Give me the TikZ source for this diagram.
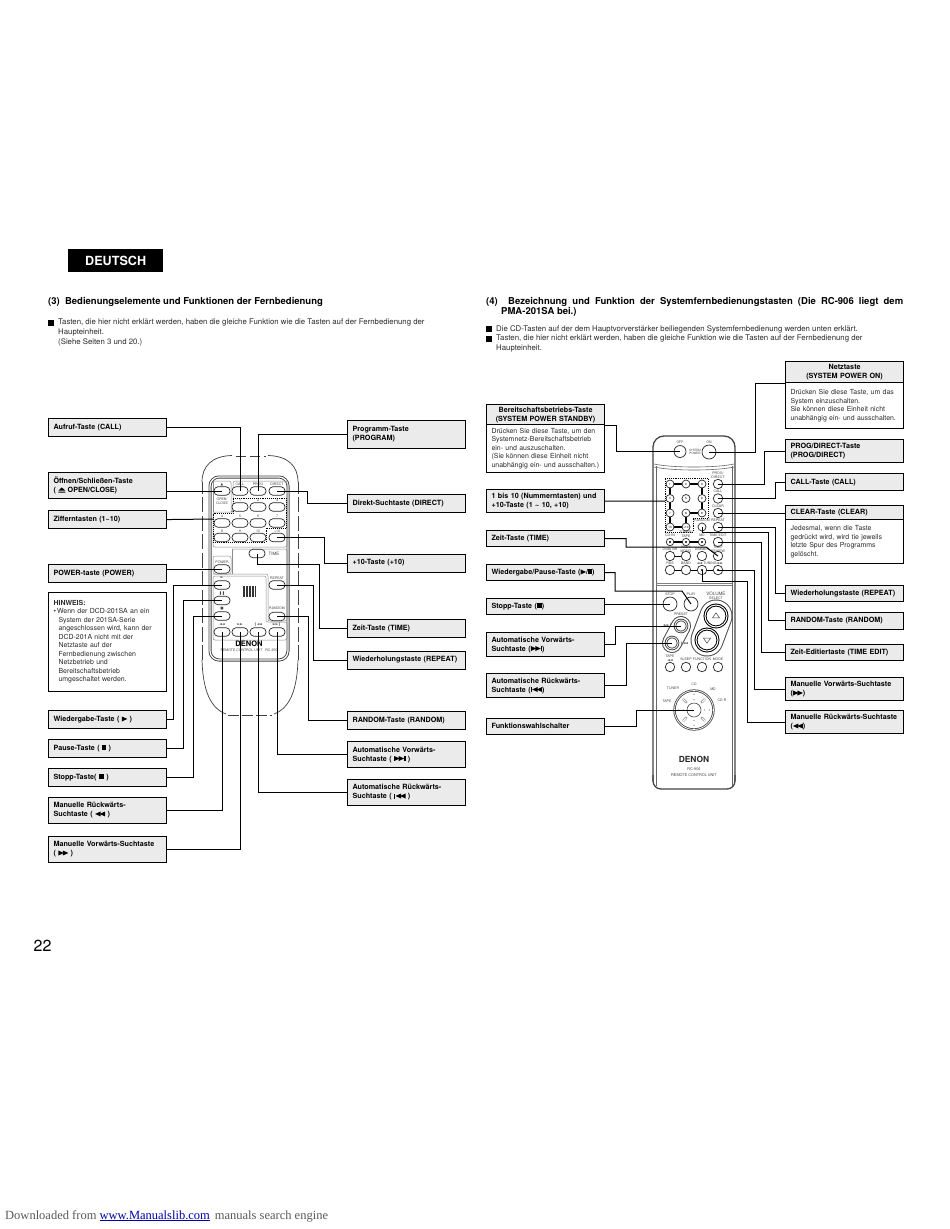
\documentclass[tikz,border=0pt]{standalone}
\usepackage{fontspec}
\setmainfont{TeX Gyre Heros}
\newfontfamily\symf{DejaVu Sans}
\newfontfamily\footf{Liberation Serif}
\usepackage{xcolor}
\usepackage{tikz}
\usetikzlibrary{calc,shapes.geometric,shadows}
\definecolor{lgry}{HTML}{EBEBEB}
\definecolor{rink}{HTML}{444444}
\definecolor{tink}{HTML}{2A2A2A}
\definecolor{ulnk}{HTML}{0000AA}
\definecolor{fink}{HTML}{5A5A5A}
\newcommand{\ejectsym}{\tikz[baseline=0pt,x=1pt,y=1pt]\fill (0,0) rectangle (7,1.1) (0,1.9) -- (7,1.9) -- (3.5,5.2) -- cycle;}
\newcommand{\trir}{\tikz[baseline=0pt,x=1pt,y=1pt]\fill (0,0) -- (0,5) -- (5.5,2.5) -- cycle;}
\newcommand{\tril}{\tikz[baseline=0pt,x=1pt,y=1pt]\fill (5.5,0) -- (5.5,5) -- (0,2.5) -- cycle;}
\newcommand{\pausesym}{\rule{1.7pt}{5pt}\hspace{0.6pt}\rule{1.7pt}{5pt}}
\newcommand{\stopsym}{\rule{5pt}{5pt}}
\newcommand{\ffsym}{\trir\hspace{-1pt}\trir}
\newcommand{\rwsym}{\tril\hspace{-1pt}\tril}
\newcommand{\nextsym}{\ffsym\hspace{0.3pt}\rule{1.1pt}{5pt}}
\newcommand{\prevsym}{\rule{1.1pt}{5pt}\hspace{0.3pt}\rwsym}
\newcommand{\jline}[2]{\makebox[#1][s]{#2}}
\newcommand{\symb}[1]{{\symf #1}}
\tikzset{
  lbox/.style   ={draw=black, line width=1.1pt, fill=lgry, anchor=north west, text width=108pt,
                  inner xsep=5pt, inner ysep=0pt, align=left,
                  font=\fontsize{7.2}{9}\selectfont\bfseries,
                  general shadow={fill=black, shadow xshift=0.6pt, shadow yshift=-0.6pt}},
  hdbox/.style  ={lbox, align=center},
  txbox/.style  ={draw=black, line width=1.1pt, fill=white, anchor=north west, text width=108pt,
                  inner xsep=5pt, inner ysep=0pt, align=left, text=tink,
                  font=\fontsize{6.95}{8.5}\selectfont,
                  general shadow={fill=black, shadow xshift=0.6pt, shadow yshift=-0.6pt}},
  ptext/.style  ={anchor=north west, inner sep=0pt, align=left, text=tink, font=\fontsize{7.8}{10}\selectfont},
  ptitle/.style ={anchor=north west, inner sep=0pt, align=left, font=\fontsize{9.5}{10}\selectfont\bfseries},
  bull/.style   ={fill=black, minimum size=6pt, inner sep=0pt, anchor=north west},
  link/.style   ={draw=black, line width=1pt, line join=miter},
  lbtn/.style   ={draw=black!85, line width=0.7pt, fill=white, rounded corners=4pt, minimum width=16pt,
                  minimum height=8.5pt, inner sep=0pt},
  rbtn/.style   ={draw=black!85, line width=0.7pt, fill=white, circle, minimum size=9.5pt, inner sep=0pt},
  dbtn/.style   ={rbtn, path picture={\fill[black] (path picture bounding box.center) circle (1.2pt);}},
  tlab/.style   ={text=rink, inner sep=0pt, align=center, font=\fontsize{3.5}{3.9}\selectfont},
  panel/.style  ={draw=black!45, line width=0.5pt, rounded corners=2pt},
  shell/.style  ={draw=rink, line width=0.9pt},
  strap/.style  ={draw=black!75, line width=0.7pt, dash pattern=on 15pt off 3.5pt},
  dotfr/.style  ={draw=black, line width=0.9pt, densely dotted},
  keylink/.style={draw=black, line width=1pt},
}
\begin{document}
\begin{tikzpicture}[x=1pt,y=-1pt]
  \useasboundingbox[fill=white] (0,0) rectangle (950,1229);
  % page head
  \node[fill=black, text=white, anchor=north west, minimum width=95pt, minimum height=23pt, inner sep=0pt,
        font=\fontsize{12.6}{13}\selectfont\bfseries] (lang) at (68,249) {\raisebox{-4.5pt}{DEUTSCH}};
  \node[ptitle] (title3) at (48,297.5) {(3)\ \ Bedienungselemente und Funktionen der Fernbedienung};
  \node[ptitle] (title4a) at (486,297.5) {\makebox[417pt][s]{(4) \ Bezeichnung und Funktion der Systemfernbedienungstasten (Die RC-906 liegt dem}};
  \node[ptitle] (title4b) at (501,307.5) {PMA-201SA bei.)};
  \node[bull] (b1) at (48,319.5) {};
  \node[ptext] (t1) at (58,318.5) {Tasten, die hier nicht erklärt werden, haben die gleiche Funktion wie die Tasten auf der Fernbedienung der\\Haupteinheit.\\(Siehe Seiten 3 und 20.)};
  \node[bull] (b2) at (486,326) {};
  \node[ptext] (t2) at (496,325) {Die CD-Tasten auf der dem Hauptvorverstärker beiliegenden Systemfernbedienung werden unten erklärt.};
  \node[bull] (b3) at (486,336) {};
  \node[ptext] (t3) at (496,335) {Tasten, die hier nicht erklärt werden, haben die gleiche Funktion wie die Tasten auf der Fernbedienung der\\Haupteinheit.};

  % remote of the main unit
  \draw[strap] (202,660) -- (202,482);
  \draw[draw=black!75, line width=0.7pt] (202,482) .. controls (202,466) and (212,456) .. (232,455.5);
  \draw[draw=black!75, line width=0.7pt] (298,482) .. controls (298,466) and (288,456) .. (268,455.5);
  \draw[strap, dash pattern=on 10pt off 4pt] (236,456) -- (266,456);
  \draw[strap] (298,660) -- (298,482);
  \draw[draw=black!75, line width=0.7pt] (202,660) .. controls (203,690) and (210,708) .. (226,714);
  \draw[draw=black!75, line width=0.7pt] (298,660) .. controls (297,690) and (290,708) .. (274,714);
  \draw[strap, dash pattern=on 11pt off 3pt] (228,715) -- (272,715);
  \draw[shell, rounded corners=9pt, double=white, double distance=1.2pt] (210,477) rectangle (288,660);
  \draw[panel] (213,481) -- (231,481) -- (231,512) -- (233,512) -- (233,481) -- (287,481) -- (287,547) -- (213,547) -- (213,512) -- (231,512);
  \draw[panel] (213,481) -- (213,512);
  \draw[panel] (232,549) -- (287,549) -- (287,621) -- (268,621) -- (268,574) -- (213,574);
  \draw[panel] (232,549) -- (232,574);
  \draw[panel] (213,556) -- (231,556) -- (231,574) -- (213,574) -- cycle;
  \draw[panel] (213,576) -- (266,576) -- (266,622) -- (287,622) -- (287,640) -- (213,640) -- cycle;
  \draw[dotfr] (233,498) -- (286,498) -- (286,528) -- (266,528) -- (266,542) -- (213,542) -- (213,513) -- (233,513) -- cycle;
  \foreach \sx in {243,244.5,...,255}
    \draw[black!80, line width=0.6pt] (\sx,586) -- (\sx,597);
  \coordinate (digits) at (214,519);

  \node[lbtn] (beject) at (222,491) {};
  \node[lbtn] (bcall) at (240,491) {};
  \node[lbtn] (bprog) at (258,491) {};
  \node[lbtn] (bdirect) at (277,491) {};
  \node[lbtn] (bone) at (240,507) {};
  \node[lbtn] (btwo) at (258,507) {};
  \node[lbtn] (bthree) at (277,507) {};
  \node[lbtn] (bfour) at (222,523) {};
  \node[lbtn] (bfive) at (240,523) {};
  \node[lbtn] (bsix) at (258,523) {};
  \node[lbtn] (bseven) at (277,523) {};
  \node[lbtn] (beight) at (222,537.5) {};
  \node[lbtn] (bnine) at (240,537.5) {};
  \node[lbtn] (bten) at (258,537.5) {};
  \node[lbtn] (bplus) at (277,537.5) {};
  \node[lbtn] (btime) at (257,553.5) {};
  \node[lbtn] (bpower) at (222,569) {};
  \node[lbtn] (bplay) at (222,585) {};
  \node[lbtn] (bpause) at (222,600.5) {};
  \node[lbtn] (bstop) at (222,616) {};
  \node[lbtn] (brepeat) at (277,585) {};
  \node[lbtn] (brandom) at (277,616.5) {};
  \node[lbtn] (bmrev) at (222,632) {};
  \node[lbtn] (bmfwd) at (240,632) {};
  \node[lbtn] (barev) at (258,632) {};
  \node[lbtn] (bafwd) at (277,632) {};

  \node[tlab] (n1) at (222,484.5) {\symb{▲}};
  \node[tlab] (n2) at (240,484.5) {CALL};
  \node[tlab] (n3) at (258,484.5) {PROG};
  \node[tlab] (n4) at (277,484.5) {DIRECT};
  \node[tlab] (n5) at (222,501) {OPEN/\\CLOSE};
  \node[tlab] (n6) at (240,500.5) {1};
  \node[tlab] (n7) at (258,500.5) {2};
  \node[tlab] (n8) at (277,500.5) {3};
  \node[tlab] (n9) at (222,516.5) {4};
  \node[tlab] (n10) at (240,516.5) {5};
  \node[tlab] (n11) at (258,516.5) {6};
  \node[tlab] (n12) at (277,516.5) {7};
  \node[tlab] (n13) at (222,531) {8};
  \node[tlab] (n14) at (240,531) {9};
  \node[tlab] (n15) at (258,531) {10};
  \node[tlab] (n16) at (277,531) {+10};
  \node[tlab, font=\fontsize{4.5}{5}\selectfont] (n17) at (274,553.5) {TIME};
  \node[tlab] (n18) at (222,562) {POWER};
  \node[tlab] (n19) at (222,578) {\symb{►}};
  \node[tlab] (n20) at (222,593.5) {\symb{❚❚}};
  \node[tlab] (n21) at (222,609) {\symb{■}};
  \node[tlab] (n22) at (277,578) {REPEAT};
  \node[tlab] (n23) at (277,608.5) {RANDOM};
  \node[tlab] (n24) at (222,625) {\symb{◄◄}};
  \node[tlab] (n25) at (240,625) {\symb{►►}};
  \node[tlab] (n26) at (258,625) {\symb{❙◄◄}};
  \node[tlab] (n27) at (277,625) {\symb{►►❙}};
  \node[tlab, text=black, font=\fontsize{7.5}{8}\selectfont\bfseries] (n28) at (249,644) {DENON};
  \node[tlab] (n29) at (249,650.5) {REMOTE CONTROL UNIT \ \ RC-260};

  % left labels
  \node[lbox, minimum height=18pt] (lcall) at (48,418) {Aufruf-Taste (CALL)};
  \node[lbox, minimum height=26pt] (leject) at (48,472) {Öffnen/Schließen-Taste\\( \ejectsym\ OPEN/CLOSE)};
  \node[lbox, minimum height=18pt] (ldigit) at (48,510) {Zifferntasten (1\textasciitilde10)};
  \node[lbox, minimum height=18pt] (lpower) at (48,564) {POWER-taste (POWER)};
  \node[txbox, minimum height=99pt] (lnote) at (48,592) {{\bfseries HINWEIS:}\\[-0.5pt]\textbullet\,Wenn der DCD-201SA an ein\\\hspace*{5pt}System der 201SA-Serie\\\hspace*{5pt}angeschlossen wird, kann der\\\hspace*{5pt}DCD-201A nicht mit der\\\hspace*{5pt}Netztaste auf der\\\hspace*{5pt}Fernbedienung zwischen\\\hspace*{5pt}Netzbetrieb und\\\hspace*{5pt}Bereitschaftsbetrieb\\\hspace*{5pt}umgeschaltet werden.};
  \node[lbox, minimum height=18pt] (lplay) at (48,710) {Wiedergabe-Taste ( \trir\ )};
  \node[lbox, minimum height=18pt] (lpause) at (48,739) {Pause-Taste ( \pausesym\ )};
  \node[lbox, minimum height=18pt] (lstop) at (48,768) {Stopp-Taste( \stopsym\ )};
  \node[lbox, minimum height=26pt] (lmrev) at (48,796.5) {Manuelle Rückwärts-\\Suchtaste ( \rwsym\ )};
  \node[lbox, minimum height=26pt] (lmfwd) at (48,835.5) {Manuelle Vorwärts-Suchtaste\\( \ffsym\ )};
  % right labels
  \node[lbox, minimum height=28pt] (lprog) at (347,419.5) {Programm-Taste\\(PROGRAM)};
  \node[lbox, minimum height=18pt] (ldirect) at (347,493.5) {Direkt-Suchtaste (DIRECT)};
  \node[lbox, minimum height=18pt] (lplus) at (347,553.5) {+10-Taste (+10)};
  \node[lbox, minimum height=18pt] (ltime) at (347,619) {Zeit-Taste (TIME)};
  \node[lbox, minimum height=18pt] (lrepeat) at (347,650.5) {Wiederholungstaste (REPEAT)};
  \node[lbox, minimum height=18pt] (lrandom) at (347,710.5) {RANDOM-Taste (RANDOM)};
  \node[lbox, minimum height=26pt] (lafwd) at (347,741) {Automatische Vorwärts-\\Suchtaste ( \nextsym\ )};
  \node[lbox, minimum height=26pt] (larev) at (347,778.5) {Automatische Rückwärts-\\Suchtaste ( \prevsym\ )};

  % flows left remote
  \draw[link] (lcall.east) -| (bcall.center);
  \draw[link] (leject.east |- beject) -- (beject.center);
  \draw[link] (ldigit.east) -- (digits);
  \draw[link] (lpower.east |- bpower) -- (bpower.center);
  \draw[link] (lplay.east) -- ++(6,0) |- (bplay.center);
  \draw[link] (lpause.east) -- ++(16,0) |- (bpause.center);
  \draw[link] (lstop.east) -- ++(26,0) |- (bstop.center);
  \draw[link] (lmrev.east) -| (bmrev.center);
  \draw[link] (lmfwd.east) -| (bmfwd.center);
  \draw[link] (lprog.west) -| (bprog.center);
  \draw[link] (ldirect.west) -- ++(-40,0) |- (bdirect.center);
  \draw[link] (lplus.west) -- ++(-23,0) |- (bplus.center);
  \draw[link] (ltime.west) -- ++(-28,0) |- ([yshift=-11pt]btime.center) -- (btime.center);
  \draw[link] (lrepeat.west) -- ++(-34,0) |- (brepeat.center);
  \draw[link] (lrandom.west) -- ++(-39,0) |- (brandom.center);
  \draw[link] (lafwd.west) -| (bafwd.center);
  \draw[link] (larev.west) -| (barev.center);

  % system remote
  \draw[shell, line width=1.3pt, rounded corners=11pt] (653,781) -- (653,436) -- (735,436) -- (735,781);
  \draw[shell, line width=1.3pt, rounded corners=8pt] (653,775) -- (653,789) -- (735,789) -- (735,775);
  \draw[black!60, line width=0.5pt] (656,466) -- (656,786) (732,466) -- (732,786);
  \draw[black!60, line width=0.6pt] (654,464) .. controls (672,468) and (716,468) .. (734,464);
  \draw[black!60, line width=0.6pt] (654,467) .. controls (672,471) and (716,471) .. (734,467);
  \draw[black!50, line width=0.5pt] (656,583) -- (732,583) (656,585) -- (732,585);
  \draw[dotfr] (665,478) -- (708,478) -- (708,518) -- (693,518) -- (693,532) -- (665,532) -- cycle;
  \coordinate (keypad) at (665,501);
  \draw[keylink, line width=1.2pt] (670,527) -- (670,484) -- (702,484) -- (702,513) -- (686,513) -- (686,527) -- cycle;
  \draw[keylink, line width=1.2pt] (670,542) -- (702,542);
  \draw[keylink] (670,556) -- (686,556) (670,570) -- (718,570);
  \draw[black!70, line width=20pt, line cap=round] (681,626) -- (672,643);
  \draw[white, line width=18pt, line cap=round] (681,626) -- (672,643);
  \draw[black!70, line width=33pt, line cap=round] (716,616) -- (707,640);
  \draw[white, line width=31pt, line cap=round] (716,616) -- (707,640);

  \node[rbtn, minimum size=12pt] (boff) at (680,451.5) {};
  \node[rbtn, minimum size=14pt] (bon) at (709,452) {};
  \node[rbtn] (bprd) at (718,484) {};
  \node[rbtn] (bcl) at (718,498.5) {};
  \node[rbtn] (bclr) at (718,513) {};
  \node[rbtn] (brpt) at (718,527) {};
  \node[rbtn] (bedit) at (718,542) {};
  \node[rbtn, minimum size=8pt] (brnd) at (702,527) {};
  \node[rbtn, minimum size=8pt] (k1) at (670,484) {\fontsize{3}{3}\selectfont 1};
  \node[rbtn, minimum size=8pt] (k2) at (686,484) {\fontsize{3}{3}\selectfont 2};
  \node[rbtn, minimum size=8pt] (k3) at (702,484) {\fontsize{3}{3}\selectfont 3};
  \node[rbtn, minimum size=8pt] (k4) at (670,498.5) {\fontsize{3}{3}\selectfont 4};
  \node[rbtn, minimum size=8pt] (k5) at (686,498.5) {\fontsize{3}{3}\selectfont 5};
  \node[rbtn, minimum size=8pt] (k6) at (702,498.5) {\fontsize{3}{3}\selectfont 6};
  \node[rbtn, minimum size=8pt] (k7) at (670,513) {\fontsize{3}{3}\selectfont 7};
  \node[rbtn, minimum size=8pt] (k8) at (686,513) {\fontsize{3}{3}\selectfont 8};
  \node[rbtn, minimum size=8pt] (k9) at (702,513) {\fontsize{3}{3}\selectfont 9};
  \node[rbtn, minimum size=8pt] (k10) at (670,527) {\fontsize{3}{3}\selectfont 10};
  \node[rbtn, minimum size=8pt] (k11) at (686,527) {\fontsize{3}{3}\selectfont +10};
  \node[dbtn, minimum size=7.5pt] (bcdin) at (670,542) {};
  \node[dbtn, minimum size=7.5pt] (btape) at (686,542) {};
  \node[dbtn, minimum size=7.5pt] (bmd) at (702,542) {};
  \node[rbtn] (bdolby) at (670,556) {};
  \node[rbtn] (bhigh) at (686,556) {};
  \node[rbtn] (bdim) at (702,556) {};
  \node[rbtn] (brev) at (718,556) {};
  \node[rbtn] (brds) at (670,570) {};
  \node[rbtn] (bband) at (686,570) {};
  \node[dbtn] (btdown) at (702,570) {};
  \node[dbtn] (btup) at (718,570) {};
  \node[rbtn, minimum size=14pt] (bstp) at (670,604) {};
  \node[rbtn, minimum size=14pt] (bply) at (691,604) {};
  \node[circle, draw=rink, line width=0.9pt, double=white, double distance=0.8pt, fill=white, minimum size=12pt, inner sep=0pt] (bpfwd) at (681,626) {};
  \node[circle, draw=rink, line width=0.9pt, double=white, double distance=0.8pt, fill=white, minimum size=12pt, inner sep=0pt] (bprev) at (672,643) {};
  \node[circle, draw=black, line width=1pt, double=white, double distance=1pt, fill=white, minimum size=22pt, inner sep=0pt] (bvup) at (716,616) {};
  \node[circle, draw=black, line width=1pt, double=white, double distance=1pt, fill=white, minimum size=22pt, inner sep=0pt] (bvdn) at (707,640) {};
  \node[isosceles triangle, shape border rotate=90, isosceles triangle apex angle=70, draw=rink, line width=0.5pt, minimum size=5pt, inner sep=0pt] (vtri1) at (716,616) {};
  \node[isosceles triangle, shape border rotate=-90, isosceles triangle apex angle=70, draw=rink, line width=0.5pt, minimum size=5pt, inner sep=0pt] (vtri2) at (707,640) {};
  \node[rbtn] (btp) at (670,667) {};
  \node[rbtn] (bslp) at (686,667) {};
  \node[rbtn] (bfnc) at (702,667) {};
  \node[rbtn] (bmod) at (718,667) {};
  % selector
  \node[circle, draw=rink, line width=0.8pt, double=white, double distance=0.7pt, fill=white, minimum size=39pt, inner sep=0pt] (bdial) at (694,710) {};
  \foreach \ang in {0,45,...,315}
    \draw[black!60, line width=2.4pt, line cap=round] ($(bdial.center)+(\ang:11)$) -- ($(bdial.center)+(\ang:15)$);
  \foreach \ang in {0,45,...,315}
    \draw[white, line width=1.4pt, line cap=round] ($(bdial.center)+(\ang:11)$) -- ($(bdial.center)+(\ang:15)$);
  \node[circle, draw=rink, line width=0.6pt, fill=white, minimum size=14pt, inner sep=0pt] (bdcen) at (694,710) {};

  \node[tlab] (m1) at (680,442) {OFF};
  \node[tlab] (m2) at (709,442) {ON};
  \node[tlab, font=\fontsize{3}{3.2}\selectfont] (m3) at (695,451.5) {SYSTEM\\POWER};
  \node[tlab] (m4) at (718,475.5) {PROG/\\DIRECT};
  \node[tlab] (m5) at (718,491.5) {CALL};
  \node[tlab] (m6) at (718,506) {CLEAR};
  \node[tlab] (m7) at (718,520.5) {REPEAT};
  \node[tlab] (m8) at (702,520.5) {RANDOM};
  \node[tlab] (m9) at (718,535.5) {TIME EDIT};
  \node[tlab] (m10) at (670,535.5) {CD-IN};
  \node[tlab] (m11) at (686,534.5) {TUNER/\\TAPE};
  \node[tlab] (m12) at (702,535.5) {MD};
  \node[tlab] (m13) at (670,549.5) {Dolby NR};
  \node[tlab] (m14) at (686,549.5) {HIGH/\\MONO};
  \node[tlab] (m15) at (702,549.5) {DIMMER};
  \node[tlab] (m16) at (718,549) {TIME/\\REVIEW};
  \node[tlab] (m17) at (670,563.5) {RDS};
  \node[tlab] (m18) at (686,563.5) {BAND};
  \node[tlab] (m19) at (710,563.5) {\symb{◄◄} TUNING \symb{►►}};
  \node[tlab] (m20) at (670,594.5) {STOP};
  \node[tlab] (m21) at (691,594.5) {PLAY};
  \node[tlab, font=\fontsize{4.6}{4.8}\selectfont] (m22) at (716,594) {VOLUME};
  \node[tlab] (m23) at (716,598.5) {SELECT};
  \node[tlab] (m24) at (681,614.5) {PRESET};
  \node[tlab] (m25) at (668,626) {\symb{►►❙}};
  \node[tlab] (m26) at (684,644) {\symb{❙◄◄}};
  \node[tlab] (m27) at (670,658) {TAPE\\\symb{◄◄}};
  \node[tlab] (m28) at (686,659.5) {SLEEP};
  \node[tlab] (m29) at (702,659.5) {FUNCTION};
  \node[tlab] (m30) at (718,659.5) {MODE};
  \node[tlab] (m31) at (673,688) {TUNER};
  \node[tlab] (m32) at (694,684) {CD};
  \node[tlab] (m33) at (713,689) {MD};
  \node[tlab] (m34) at (667,701) {TAPE};
  \node[tlab] (m35) at (722,700) {CD-R};
  \node[tlab, text=black!85, font=\fontsize{8.4}{9}\selectfont\bfseries] (m36) at (694,759.5) {DENON};
  \node[tlab, font=\fontsize{3.8}{4}\selectfont] (m37) at (694,769.5) {RC-906};
  \node[tlab, font=\fontsize{3.8}{4}\selectfont] (m38) at (694,775) {REMOTE CONTROL UNIT};

  % labels of the system remote
  \node[hdbox, minimum height=20pt] (sstbyh) at (486,404) {Bereitschaftsbetriebs-Taste\\(SYSTEM POWER STANDBY)};
  \node[txbox, minimum height=48pt] (sstby) at (486,424) {\jline{108pt}{Drücken Sie diese Taste, um den}\\\jline{108pt}{Systemnetz-Bereitschaftsbetrieb}\\ein- und auszuschalten.\\\jline{108pt}{(Sie können diese Einheit nicht}\\\jline{108pt}{unabhängig ein- und ausschalten.)}};
  \node[lbox, minimum height=23pt] (skeys) at (486,489) {1 bis 10 (Nummerntasten) und\\+10-Taste (1 \textasciitilde\ 10, +10)};
  \node[lbox, minimum height=16pt] (stime) at (486,530) {Zeit-Taste (TIME)};
  \node[lbox, minimum height=16pt] (splay) at (486,564) {Wiedergabe/Pause-Taste (\trir/\pausesym)};
  \node[lbox, minimum height=16pt] (sstop) at (486,598) {Stopp-Taste (\stopsym)};
  \node[lbox, minimum height=24pt] (safwd) at (486,632) {Automatische Vorwärts-\\Suchtaste (\nextsym)};
  \node[lbox, minimum height=24pt] (sarev) at (486,673) {Automatische Rückwärts-\\Suchtaste (\prevsym)};
  \node[lbox, minimum height=16pt] (sfunc) at (486,717.5) {Funktionswahlschalter};
  \node[hdbox, minimum height=21pt] (sonh) at (785,361) {Netztaste\\(SYSTEM POWER ON)};
  \node[txbox, minimum height=46pt] (son) at (785,382) {\jline{108pt}{Drücken Sie diese Taste, um das}\\System einzuschalten.\\\jline{108pt}{Sie können diese Einheit nicht}\\\jline{108pt}{unabhängig ein- und ausschalten.}};
  \node[lbox, minimum height=23pt] (sprog) at (785,439) {PROG/DIRECT-Taste\\(PROG/DIRECT)};
  \node[lbox, minimum height=17pt] (scall) at (785,473) {CALL-Taste (CALL)};
  \node[lbox, minimum height=14pt] (sclrh) at (785,505) {CLEAR-Taste (CLEAR)};
  \node[txbox, minimum height=44pt] (sclr) at (785,519) {\jline{108pt}{Jedesmal, wenn die Taste}\\\jline{108pt}{gedrückt wird, wird tie jeweils}\\\jline{108pt}{letzte Spur des Programms}\\gelöscht.};
  \node[lbox, minimum height=16pt] (srpt) at (785,585) {Wiederholungstaste (REPEAT)};
  \node[lbox, minimum height=17pt] (srnd) at (785,611.5) {RANDOM-Taste (RANDOM)};
  \node[lbox, minimum height=16pt] (sedit) at (785,644) {Zeit-Editiertaste (TIME EDIT)};
  \node[lbox, minimum height=23pt] (smfwd) at (785,677) {Manuelle Vorwärts-Suchtaste\\(\ffsym)};
  \node[lbox, minimum height=23pt] (smrev) at (785,710) {Manuelle Rückwärts-Suchtaste\\(\rwsym)};

  % flows system remote
  \draw[link] (sstbyh.south east) -- ++(11,0) |- (boff.center);
  \draw[link] (skeys.east) -- (keypad);
  \draw[link] (stime.east) -- ++(21,0) |- ([shift={(-12pt,9pt)}]brev.center) -- (brev.center);
  \draw[link] (splay.east) -- ++(10,0) |- ([shift={(-9pt,13pt)}]bply.center) -- (bply.center);
  \draw[link] (sstop.east |- bstp) -- (bstp.center);
  \draw[link] (safwd.east) -- ++(10,0) |- (bpfwd.center);
  \draw[link] (sarev.east) -- ++(21,0) |- (bprev.center);
  \draw[link] (sfunc.east) -- ++(31,0) |- (bdial.center);
  \draw[link] (sonh.south west) -- ++(-30,0) |- (bon.center);
  \draw[link] (sprog.west) -- ++(-21,0) |- (bprd.center);
  \draw[link] (scall.west) -- ++(-10,0) |- (bcl.center);
  \draw[link] (sclrh.west |- bclr) -- (bclr.center);
  \draw[link] (srpt.west) -- ++(-10,0) |- (brpt.center);
  \draw[link] (srnd.west) -- ++(-17,0) |- ([yshift=-5.5pt]brnd.center) -- (brnd.center);
  \draw[link] (sedit.west) -- ++(-24,0) |- (bedit.center);
  \draw[link] (smfwd.west) -- ++(-31,0) |- (btup.center);
  \draw[link] (smrev.west) -- ++(-38,0) |- ([yshift=-11pt]btdown.center) -- (btdown.center);

  % page foot
  \node[anchor=west, inner sep=0pt, font=\fontsize{16}{16}\selectfont] (pageno) at (33.5,946) {22};
  \node[anchor=west, inner sep=0pt, text=fink, font=\footf\fontsize{12.5}{13}\selectfont] (foot) at (5,1216) {Downloaded from \textcolor{ulnk}{\underline{www.Manualslib.com}}\hspace{5pt}manuals search engine};
\end{tikzpicture}
\end{document}
